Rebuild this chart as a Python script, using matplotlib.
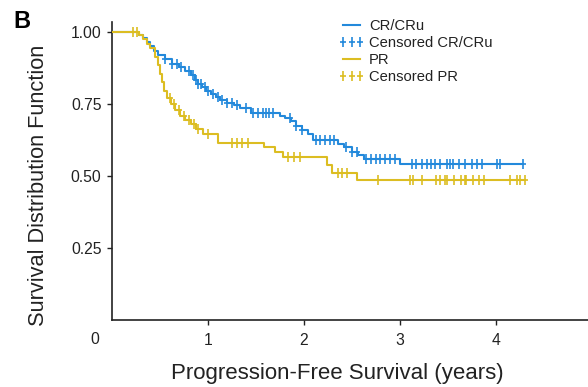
import numpy as np
import matplotlib
matplotlib.use("Agg")
import matplotlib.pyplot as plt
from matplotlib.path import Path
from matplotlib.lines import Line2D

plt.rcParams['font.family'] = ['Liberation Sans', 'DejaVu Sans']

# ---- data ----
cr_times = [0, 0.28, 0.32, 0.36, 0.40, 0.44, 0.48, 0.55, 0.62, 0.70, 0.76, 0.82, 0.86, 0.90,
            0.94, 0.98, 1.03, 1.08, 1.13, 1.20, 1.27, 1.33, 1.45, 1.75, 1.80, 1.86, 1.92, 1.98,
            2.04, 2.09, 2.35, 2.42, 2.50, 2.56, 2.62, 3.00]
cr_surv = [1.0, 0.99, 0.98, 0.965, 0.95, 0.935, 0.92, 0.905, 0.89, 0.88, 0.865, 0.85, 0.835, 0.82,
           0.81, 0.795, 0.785, 0.775, 0.765, 0.755, 0.745, 0.735, 0.72, 0.71, 0.70, 0.69, 0.675, 0.66,
           0.645, 0.625, 0.61, 0.60, 0.585, 0.572, 0.56, 0.543]
cr_censored = [0.55, 0.62, 0.68, 0.72, 0.80, 0.84, 0.87, 0.90, 0.93, 0.97, 1.00, 1.05, 1.10, 1.15,
               1.20, 1.25, 1.30, 1.40, 1.47, 1.52, 1.57, 1.60, 1.64, 1.68, 1.85, 1.92, 1.98, 2.12,
               2.17, 2.22, 2.27, 2.31, 2.44, 2.50, 2.55, 2.65, 2.70, 2.75, 2.79, 2.84, 2.90, 2.95,
               3.12, 3.17, 3.23, 3.28, 3.32, 3.36, 3.42, 3.49, 3.52, 3.55, 3.61, 3.68, 3.75, 3.80,
               3.85, 4.01, 4.04, 4.28]

pr_times = [0, 0.28, 0.32, 0.36, 0.40, 0.45, 0.48, 0.50, 0.52, 0.54, 0.57, 0.61, 0.66, 0.71,
            0.76, 0.82, 0.88, 0.95, 1.10, 1.58, 1.70, 1.78, 2.24, 2.29, 2.55]
pr_surv = [1.0, 0.99, 0.975, 0.96, 0.945, 0.915, 0.885, 0.855, 0.825, 0.795, 0.77, 0.75, 0.73, 0.71,
           0.695, 0.68, 0.665, 0.645, 0.615, 0.60, 0.585, 0.565, 0.54, 0.51, 0.485]
pr_censored = [0.22, 0.26, 0.60, 0.65, 0.70, 0.75, 0.80, 0.85, 0.90, 1.00, 1.25, 1.30, 1.35, 1.42,
               1.83, 1.90, 1.96, 2.35, 2.40, 2.45, 2.77, 3.10, 3.14, 3.23, 3.38, 3.42, 3.47, 3.49,
               3.56, 3.64, 3.68, 3.69, 3.76, 3.82, 3.87, 4.15, 4.22, 4.25, 4.30]

series_labels = ['CR/CRu', 'Censored CR/CRu', 'PR', 'Censored PR']
x_ticks = [1, 2, 3, 4, 5]
y_ticks = [0.25, 0.50, 0.75, 1.00]
y_ticklabels = ['0.25', '0.50', '0.75', '1.00']

BLUE = '#2389db'
GOLD = '#dcbd22'
INK = '#222222'

W, H = 588, 387
fig = plt.figure(figsize=(W / 100, H / 100), dpi=100)
ax = fig.add_axes([112 / W, (H - 320) / H, 480 / W, 298 / H])
ax.set_xlim(0, 5)
ax.set_ylim(0, 1.035)

# tall thin plus marker
plus = Path([(-0.28, 0), (0.28, 0), (0, -0.5), (0, 0.5)],
            [Path.MOVETO, Path.LINETO, Path.MOVETO, Path.LINETO])
LW = 1.5
MS = 6.8
MEW = 1.2


def km(times, surv, censored, color):
    t = list(times) + [max(censored)]
    s = list(surv) + [surv[-1]]
    ax.step(t, s, where='post', color=color, lw=LW, zorder=3)
    idx = np.searchsorted(np.asarray(times), np.asarray(censored), side='right') - 1
    cy = np.asarray(surv)[idx]
    ax.plot(censored, cy, ls='none', marker=plus, ms=MS, mew=MEW, color=color, zorder=4)


km(cr_times, cr_surv, cr_censored, BLUE)
km(pr_times, pr_surv, pr_censored, GOLD)

for side in ['top', 'right']:
    ax.spines[side].set_visible(False)
for side in ['left', 'bottom']:
    ax.spines[side].set_linewidth(1.2)
    ax.spines[side].set_color(INK)

ax.set_xticks(x_ticks)
ax.set_xticklabels([str(v) for v in x_ticks])
ax.set_yticks(y_ticks)
ax.set_yticklabels(y_ticklabels)
ax.tick_params(axis='both', direction='out', length=3.5, width=1.0, color=INK,
               labelsize=11.3, labelcolor=INK, pad=4)
ax.tick_params(axis='x', pad=6)

# origin label
fig.text(95 / W, 1 - 339 / H, '0', ha='center', va='center', fontsize=11.3, color=INK)

# axis labels
fig.text(337 / W, 1 - 374 / H, 'Progression-Free Survival (years)', ha='center', va='center',
         fontsize=16, color=INK)
fig.text(39 / W, 1 - 185 / H, 'Survival Distribution Function', ha='center', va='center',
         rotation=90, fontsize=15.7, color=INK)

# panel label
fig.text(22 / W, 1 - 22 / H, 'B', ha='center', va='center', fontsize=17, fontweight='bold',
         color='black')

handles = [
    Line2D([], [], color=BLUE, lw=LW),
    Line2D([], [], color=BLUE, ls='none', marker=plus, ms=MS, mew=MEW),
    Line2D([], [], color=GOLD, lw=LW),
    Line2D([], [], color=GOLD, ls='none', marker=plus, ms=MS, mew=MEW),
]
leg = fig.legend(handles, series_labels, loc='upper left',
                 bbox_to_anchor=(339 / W, 1 - 19 / H), frameon=False, fontsize=10.6,
                 numpoints=3, handlelength=1.75, handletextpad=0.3, labelspacing=0.2,
                 borderpad=0, borderaxespad=0)
for t in leg.get_texts():
    t.set_color(INK)

fig.savefig('out.png', dpi=100)
